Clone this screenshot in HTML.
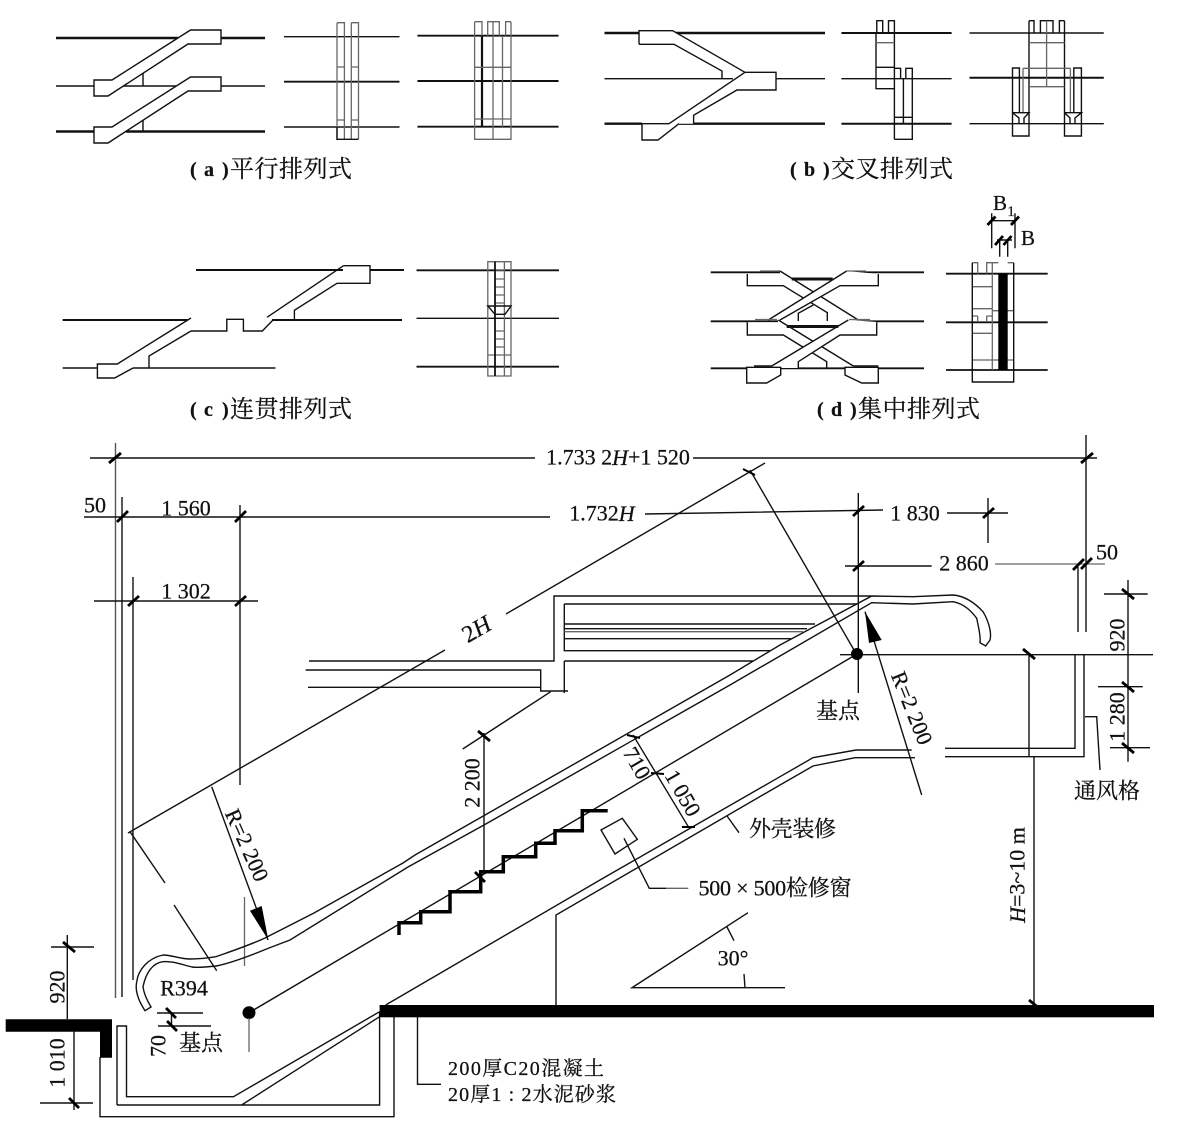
<!DOCTYPE html>
<html><head><meta charset="utf-8"><style>
html,body{margin:0;padding:0;background:#fff}
svg{display:block}
.l{fill:none;stroke:#111;stroke-width:1.4;stroke-linejoin:miter}
.t{fill:none;stroke:#111;stroke-width:2.4}
.g{fill:none;stroke:#666;stroke-width:1.3}
.w{fill:#fff;stroke:#111;stroke-width:1.4}
.f{fill:#fff;stroke:none}
.k{fill:none;stroke:#000;stroke-width:3}
.x{fill:none;stroke:#000;stroke-width:2.8}
text{font-family:"Liberation Serif","Noto Serif CJK SC",serif;fill:#111;stroke:#111;stroke-width:.25;font-size:22px;text-anchor:middle;dominant-baseline:central}
.c{font-size:24px;text-anchor:start}
.i{font-style:italic}
</style></head><body>
<svg width="1178" height="1130" viewBox="0 0 1178 1130" xmlns="http://www.w3.org/2000/svg">
<rect width="1178" height="1130" fill="#fff"/>

<!-- PANEL A left -->
<path class="t" d="M56 38H178M221 38H265M56 131.5H94M126 131.5H265"/>
<path class="l" d="M56 86H94M122 86H177M221 86H265M143 73V86M143 120V131"/>
<path class="w" d="M94 80H112L190.5 30H221V44H188L108 96H94Z"/>
<path class="w" d="M94 127H112L190.5 77H221V91H188L108 143H94Z"/>
<!-- PANEL A middle -->
<path class="l" d="M284 36.7H399.5"/><path class="t" d="M284 81.7H399.5" style="stroke-width:1.8"/><path class="l" d="M284 127H399.5"/>
<path class="g" d="M337 22.700H344.400V139.300M337 22.700V139.300M351.300 22.700H358.500V139.300M351.300 22.700V139.300M337 67H344.400M351.300 67H358.500M337 120H344.400M351.300 120H358.500"/>
<path class="l" d="M337 127V139.300H358.500"/>
<!-- PANEL A right -->
<path class="t" d="M417.400 35.700H558.600M417.400 81H558.600M417.400 126.700H558.600" style="stroke-width:1.9"/>
<path class="t" d="M482 35.700V127" style="stroke-width:2.2"/>
<path class="g" d="M474.600 21.700V139.300H511V21.700M474.600 21.700H482V35.700M487.700 35.700V21.700H499.300V35.700M493 21.700V139.300M505.600 35.700V21.700H511M474.600 67.300H511M474.600 119H511M502.500 35.700V127"/>

<text class="c" x="190" y="170" style="font-size:20px;font-weight:bold">(</text>
<text class="c" x="204" y="170" style="font-size:20px;font-weight:bold">a</text>
<text class="c" x="222" y="170" style="font-size:20px;font-weight:bold">)</text>
<text class="c" x="230" y="170" textLength="122">平行排列式</text>

<!-- PANEL B left -->
<path class="t" d="M604.500 33H639M672.600 33H825M604.500 123.700H642M679 123.700H825"/>
<path class="l" d="M604.500 78.700H733M776 78.700H825"/>
<path class="f" d="M639 30.700H672.600L745 72.300L722 78V71L674 44.300H639Z"/>
<path class="l" d="M639 44.300V30.700H672.600L745 72.300M639 44.300H674L722 71V78.700"/>
<path class="f" d="M745 72.300H776V90H737L693.600 115.300V123.700H679L658 140H642V123.700H669Z"/>
<path class="l" d="M745 72.300H776V90H737L693.600 115.300V123.700M745 72.300L669 123.700H642V140H658L679 123.700"/>
<!-- PANEL B middle -->
<path class="t" d="M841.400 33H951.600M841.400 123.700H951.600" style="stroke-width:2"/>
<path class="l" d="M841.400 78.700H951.600"/>
<path class="l" d="M876.800 33V20.700H882.700V33M888.500 33V20.700H894.400V139.300M876 33V88.700H894.400M876 67.300H894.400M894.400 139.300H912.300V68.300H905.800V78.700M894.400 68.300H900.600V78.700M903.400 78.700V123.700M894.400 117.300H912.300"/>
<path class="g" d="M876 42.700H894.400"/>
<!-- PANEL B right -->
<path class="l" d="M969.500 33H1103.800M969.500 123.700H1103.800"/>
<path class="t" d="M969.500 77.700H1103.800" style="stroke-width:2"/>
<path class="l" d="M1029 20.700H1034V33M1029 20.700V136H1012.500V68H1019.400V112M1064.500 20.700H1059.400V33M1064.500 20.700V136H1081.400V68H1073.800V112M1040.400 33V20.700H1053V33"/>
<path class="g" d="M1046.600 20.700V86.700M1029 42.700H1064.500M1023 68.300H1070.400M1029 86.700H1064.500M1023 68.300V112M1070.400 68.300V112"/>
<path class="l" d="M1012.500 112.700H1029L1024 118V123.700M1012.500 112.700L1019 118V123.700M1064.500 112.700H1081.400L1075 118V123.700M1064.500 112.700L1070 118V123.700"/>

<text class="c" x="790" y="170" style="font-size:20px;font-weight:bold">(</text>
<text class="c" x="804" y="170" style="font-size:20px;font-weight:bold">b</text>
<text class="c" x="823" y="170" style="font-size:20px;font-weight:bold">)</text>
<text class="c" x="831" y="170" textLength="122">交叉排列式</text>

<!-- PANEL C left -->
<path class="t" d="M196 270H343M370 270H404M62.600 320H187.600M272 320H402" style="stroke-width:1.9"/>
<path class="l" d="M62.600 368H97.400M133 368H275.500"/>
<path class="l" d="M343.500 265.700H370V283.300H337L294.400 310.300V320M343.500 265.700L267 317.300"/>
<path class="l" d="M191 318L117.300 364H97.400V378H114.700L133 368M191 331L149 356V368"/>
<path class="l" d="M191 331H226.800V319.300H243.400V331H262.300L273 320"/>
<!-- PANEL C right -->
<path class="t" d="M416.500 270.300H559M416.500 366.700H559" style="stroke-width:1.9"/>
<path class="l" d="M416.500 318.300H559"/>
<path class="g" d="M487.800 261.700H511V376H487.800ZM504.400 261.700V376M487.800 355H511M495 279H504.400M495 287H504.400M495 295H504.400M495 303H504.400M495 331H504.400M495 339H504.400M495 347H504.400M495 270H504.400"/>
<path class="t" d="M495 261.700V376" style="stroke-width:1.8"/>
<path class="l" d="M487.800 306H511L505 314.300H495Z"/>

<text class="c" x="190" y="410" style="font-size:20px;font-weight:bold">(</text>
<text class="c" x="204" y="410" style="font-size:20px;font-weight:bold">c</text>
<text class="c" x="222" y="410" style="font-size:20px;font-weight:bold">)</text>
<text class="c" x="230" y="410" textLength="122">连贯排列式</text>

<!-- PANEL D left -->
<path class="t" d="M710.700 272.300H780M846.700 272.300H924M710.700 321.300H778M848 321.300H924M710.700 368.300H746.700M780.700 368.300H845M878.300 368.300H924" style="stroke-width:1.9"/>
<!-- level 1 -->
<path class="f" d="M747.300 274H780L858.300 320H827.300V312.700L783.300 285.700H747.300Z"/>
<path class="l" d="M780 271L858.300 320M747.300 274V285.700H783.300L827.300 312.700V321"/>
<path class="f" d="M768.300 320L846.700 271L878.300 274V285.700H840L780 320Z"/>
<path class="l" d="M768.300 320L846.700 271M780 320L840 285.700H878.300V274"/>
<path class="l" d="M798.300 321V313.300L813.300 305"/>
<!-- level 2 -->
<path class="f" d="M747.300 322.300H778L853.300 366H826.700V361.700L783.300 335H747.300Z"/>
<path class="l" d="M778.300 320L853.300 366M747.300 322.300V335H783.300L826.700 361.700V368.300"/>
<path class="f" d="M771.700 366L848.300 320L876.700 322V335H840L798.300 361.700V368H771.700Z"/>
<path class="l" d="M771.700 366L848.300 320M798.300 368.300V361.700L840 335H876.700V322.300"/>
<path class="t" d="M791.700 279H832.700M786.700 326.500H838.300" style="stroke-width:3"/>
<path class="g" d="M760 271H780M846.700 271H866M755 319.500H777M849 319.500H870"/>
<path class="w" d="M746.700 367.300V383H766.700L780.700 375V367.300Z"/>
<path class="w" d="M845 367.300V375L861.700 383H878.300V367.300Z"/>
<path class="l" d="M754 366H771.700M853.300 366H878.300"/>
<!-- PANEL D right -->
<path class="t" d="M946 273.700H1047.700M946 322.300H1047.700M946 370H1047.700" style="stroke-width:1.8"/>
<path class="g" d="M972.300 262.700H977.700V273.700M986.700 273.700V262.700H998.300M992.300 262.700V370M972.300 286.700H992.300M972.300 308.700H992.300M992.300 310.700H1013.700M972.300 333.300H992.300M972.300 360H1013.700M1007.700 262.700H1013.700M977.700 316V322M986.700 316V322M972.300 316H977.700M986.700 316H992.300"/>
<path class="l" d="M972.300 262.700V382H1013.700V262.700"/>
<rect x="998.300" y="273.700" width="9.400" height="96.300" fill="#000"/>
<path class="l" d="M991.700 213.300V248.300M1015 213.300V248.300M999.700 240V256.700M1007.700 240V256.700M991.700 220.700H1015M997 240H1012"/>
<path class="x" d="M987.500 225L995.500 216.500M1011 225L1019 216.500M995 245L1003 236M1003.500 245L1011.500 236"/>
<text x="1000" y="203" style="font-size:21px">B</text><text x="1011" y="212" style="font-size:15px">1</text>
<text x="1028" y="238" style="font-size:21px">B</text>

<text class="c" x="817" y="410" style="font-size:20px;font-weight:bold">(</text>
<text class="c" x="831" y="410" style="font-size:20px;font-weight:bold">d</text>
<text class="c" x="850" y="410" style="font-size:20px;font-weight:bold">)</text>
<text class="c" x="858" y="410" textLength="122">集中排列式</text>

<!-- MAIN: dimension + extension lines -->
<path class="l" d="M90 458H535M693 458H1097M122 497V997M133 577V980M1086 435V632M1078 567V632"/>
<path d="M115.500 443V998" fill="none" stroke="#555" stroke-width="1.4"/>
<path class="l" d="M84 517H550M645 514L883 510M947 513H1008M94 601H258M240 505V785"/>
<path class="g" d="M244.500 897V966"/>
<path class="l" d="M128 833L445 650M506 614L765 463M130 831.700L165 883M174 905L216.700 970.700M750 470L854 650"/>
<path class="l" d="M858.300 493V693M845 566H931.700M988 498V543"/>
<path class="g" d="M995 564H1105"/>
<path class="l" d="M840 654.700H1153M1029 654.700V756.700M1034 756.700V1005M1128 580V761.700M1104 594H1147.700M1098 686.700H1142.700M1110 747.700H1150"/>
<!-- landing -->
<path class="l" d="M309 661H554V596H871M305.700 670H540.700V691H568M308 687.300H540.700M564.300 604H857M564.300 604V650.700H770M564.300 661V693M564.300 661H753M564.300 624H815M564.300 628.700H807M564.300 638.700H791"/>
<path class="g" d="M564.300 631.700H803"/>
<!-- handrail -->
<path class="l" d="M145 1010.700C138 1000 135 990 136.700 982C138 970 148 958 163 955C172 955 180 959 190 959C200 959 208 958 216 956.700C232 951 250 945 265 938L314 913L403 863L415 855L730 675L780 645L871.700 596L913 596.700L953 595C965 596 975 603 983 611.700C988 620 992 632 990 640L985.700 646L980 642.700C981 636 978 625 976.700 618.300C972 612 965 604 953 601.700L913 604L871.700 602.700L780 656L730 685L484 825L408 867L290 940L269 948C252 955 232 963 216 966C205 967 198 968 192 967C180 964 172 961 163 961.700C153 963 146 972 143 986.700C144 995 148 1002 151 1007Z"/>
<!-- working line and dot -->
<path class="l" d="M249 1012.700L857 654"/>
<circle cx="249" cy="1012.700" r="6.500" fill="#000"/>
<circle cx="857" cy="654" r="6" fill="#000"/>
<path class="g" d="M249 1018V1052"/>
<!-- lower truss -->
<path class="l" d="M385.700 1005L600 880L780 776.700L813 757.700L856 750H911.700M556 1005V915L780 785L813 766L855 757.700H915"/>
<path class="l" d="M945 748.300H1075V655M945 756.700H1084V655"/>
<!-- pit -->
<path class="l" d="M117 1105V1026H126.500V1096.700H233.500L379.600 1011.700M117 1105H379.600V1011.700M241.600 1105L379.600 1016.700M100 1057V1116.700H394V1016.700M417.500 1017V1084.300H441"/>
<path d="M5.700 1019.300H112V1057.700H100V1031.700H5.700Z" fill="#000"/>
<rect x="379.600" y="1005" width="774.400" height="12.300" fill="#000"/>
<!-- stair -->
<path class="k" d="M399 935V922.700H420.700V911.700H450V891.700H480.700V871.700H503.300V856.700H535.700V843.300H555V830.700H582.300V810.700H607.700" style="stroke-width:3.500"/>
<!-- dim 2200 -->
<path class="l" d="M484 733V873M462.700 749L550.700 691.700"/>
<!-- 710/1050 -->
<path class="l" d="M633 735L688.300 826.700"/>
<!-- window -->
<path class="l" d="M601 830L622.300 818.300L637.300 839.300L615 854ZM624 838.300L649.300 888.300H666"/>
<path class="g" d="M666 888.300H688.300"/>
<path class="l" d="M727 816L739 832.700"/>
<!-- angle -->
<path class="l" d="M748 912.700L632 987.700H785M727 927L734 940.700M744 974L745 988"/>
<!-- left dims -->
<path class="l" d="M67.300 935V1019M74 1031V1110M51 947H94M40 1103H93M157 1013H203M158 1026H211M171.500 1013V1026M1085 716.700H1096.700L1100 770"/>
<!-- arrows -->
<path class="l" d="M211.700 786.700L268 940M921.700 795L865 611.700"/>
<path d="M268.300 940L250 910.700L261.700 906Z" fill="#000"/>
<path d="M865 611.700L869 643L881.700 640Z" fill="#000"/>
<!-- ticks -->
<path class="x" d="M109 463L121 453M1081 463L1093 453M117 522L128 511M235 522L246 511M128 606L139 596M235 606L246 596M853 516L864 506M983 518L994 508M853 571L864 561M1073 570L1084 559M1081 569L1092 558M1023 649L1035 659M1029 1000L1040 1009M1122 589L1134 599M1122 682L1134 692M1122 743L1134 753M63 942L75 952M69 1098L79 1108M166 1008L176 1018M167 1021L177 1031M478 731L490 741M475 872L485 882"/>
<path class="x" d="M743 469L755 475M627 735L640 738M651 773L664 774M682 827L695 827" style="stroke-width:2"/>

<!-- labels -->
<text x="618" y="457">1.733 2<tspan class="i">H</tspan>+1 520</text>
<text x="95" y="505">50</text>
<text x="186" y="508">1 560</text>
<text x="602" y="513">1.732<tspan class="i">H</tspan></text>
<text x="915" y="513">1 830</text>
<text x="186" y="591">1 302</text>
<text x="964" y="563">2 860</text>
<text x="1107" y="552">50</text>
<text transform="translate(477 630) rotate(-30)" style="font-size:24px">2<tspan class="i">H</tspan></text>
<text transform="translate(472 783) rotate(-90)">2 200</text>
<text transform="translate(637 763) rotate(60)">710</text>
<text transform="translate(683 793) rotate(60)">1 050</text>
<text transform="translate(247 845) rotate(66)">R=2 200</text>
<text transform="translate(912 708) rotate(68)">R=2 200</text>
<text transform="translate(1117 635) rotate(-90)">920</text>
<text transform="translate(1117 717) rotate(-90)">1 280</text>
<text transform="translate(1017 875) rotate(-90)"><tspan class="i">H</tspan>=3~10 m</text>
<text x="838" y="711">基点</text>
<text x="1107" y="791">通风格</text>
<text x="792.500" y="829" textLength="87">外壳装修</text>
<text x="775" y="888" textLength="153">500 × 500检修窗</text>
<text x="733" y="958">30°</text>
<text x="184" y="988">R394</text>
<text x="201" y="1043">基点</text>
<text transform="translate(57 987) rotate(-90)">920</text>
<text transform="translate(57 1063) rotate(-90)">1 010</text>
<text transform="translate(158 1046) rotate(-90)">70</text>
<text x="448" y="1069" style="text-anchor:start;font-size:20px" textLength="156">200厚C20混凝土</text>
<text x="448" y="1095" style="text-anchor:start;font-size:20px" textLength="168">20厚1 : 2水泥砂浆</text>
</svg>
</body></html>
